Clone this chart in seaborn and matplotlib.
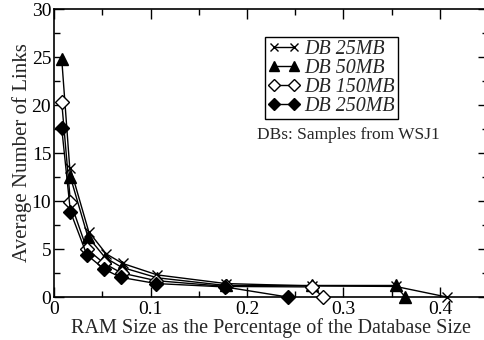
import matplotlib
matplotlib.use("Agg")
import matplotlib.pyplot as plt
import seaborn as sns
import pandas as pd
from matplotlib.ticker import MultipleLocator

sns.set_theme(style="ticks")
plt.rcParams['font.family'] = ['Liberation Serif', 'DejaVu Serif']

labels = ["DB 25MB", "DB 50MB", "DB 150MB", "DB 250MB"]

x_25 = [0.017, 0.036, 0.054, 0.071, 0.107, 0.178, 0.267, 0.354, 0.407]
y_25 = [13.4, 6.8, 4.5, 3.5, 2.3, 1.4, 1.15, 1.1, 0.0]

x_50 = [0.008, 0.017, 0.035, 0.053, 0.070, 0.107, 0.178, 0.267, 0.354, 0.364]
y_50 = [24.8, 12.5, 6.3, 4.1, 3.1, 2.0, 1.2, 1.2, 1.2, 0.0]

x_150 = [0.008, 0.017, 0.034, 0.052, 0.070, 0.106, 0.178, 0.267, 0.279]
y_150 = [20.3, 9.9, 5.0, 3.5, 2.5, 1.7, 1.1, 1.05, 0.0]

x_250 = [0.008, 0.017, 0.034, 0.052, 0.069, 0.106, 0.177, 0.242]
y_250 = [17.6, 8.9, 4.4, 2.9, 2.05, 1.4, 1.05, 0.0]

xs = [x_25, x_50, x_150, x_250]
ys = [y_25, y_50, y_150, y_250]
markers = ["x", "^", "D", "D"]
mfc = ["black", "black", "white", "black"]
msize = [7, 9, 7, 7]

fig = plt.figure(figsize=(4.85, 3.4), dpi=100)
ax = fig.add_axes([54/485, 1-297/340, (54+0.45*965)/485 - 54/485, (297-9)/340])

for lab, xv, yv, m, fc, ms in zip(labels, xs, ys, markers, mfc, msize):
    df = pd.DataFrame({"x": xv, "y": yv})
    sns.lineplot(data=df, x="x", y="y", ax=ax, sort=False, color="black",
                 marker=m, markersize=ms, markerfacecolor=fc,
                 markeredgecolor="black", markeredgewidth=1.0,
                 linewidth=1.0, label=lab, clip_on=False, zorder=3)

ax.set_xlim(0, 0.45)
ax.set_ylim(0, 30)
ax.xaxis.set_major_locator(MultipleLocator(0.1))
ax.xaxis.set_minor_locator(MultipleLocator(0.05))
ax.yaxis.set_major_locator(MultipleLocator(5))
ax.yaxis.set_minor_locator(MultipleLocator(2.5))
ax.set_xticks([0, 0.1, 0.2, 0.3, 0.4])
ax.set_xticklabels(["0", "0.1", "0.2", "0.3", "0.4"])
ax.tick_params(which="both", direction="in", top=True, right=True,
               labelsize=14, colors="black", pad=2)
ax.tick_params(axis="x", which="both", pad=3)
ax.tick_params(which="major", length=7, width=1)
ax.tick_params(which="minor", length=4, width=1)
for s in ax.spines.values():
    s.set_linewidth(1.2)
    s.set_color("black")

ax.set_xlabel("RAM Size as the Percentage of the Database Size", fontsize=14.5, labelpad=0)
ax.set_ylabel("Average Number of Links", fontsize=15, labelpad=0)

leg = ax.legend(loc="upper left", bbox_to_anchor=(265/485, 1-37/340),
                bbox_transform=fig.transFigure, numpoints=2, frameon=True,
                fancybox=False, framealpha=1, edgecolor="black",
                prop={"style": "italic", "size": 14.4, "family": "Liberation Serif"},
                handlelength=1.6, handletextpad=0.2, borderpad=0.15,
                labelspacing=0.0, borderaxespad=0, markerscale=0.85)
leg.get_frame().set_linewidth(1.0)

fig.text(348/485, 1-135/340, "DBs: Samples from WSJ1", ha="center", va="center",
         fontsize=12.5)

fig.savefig("out.png", dpi=100)
